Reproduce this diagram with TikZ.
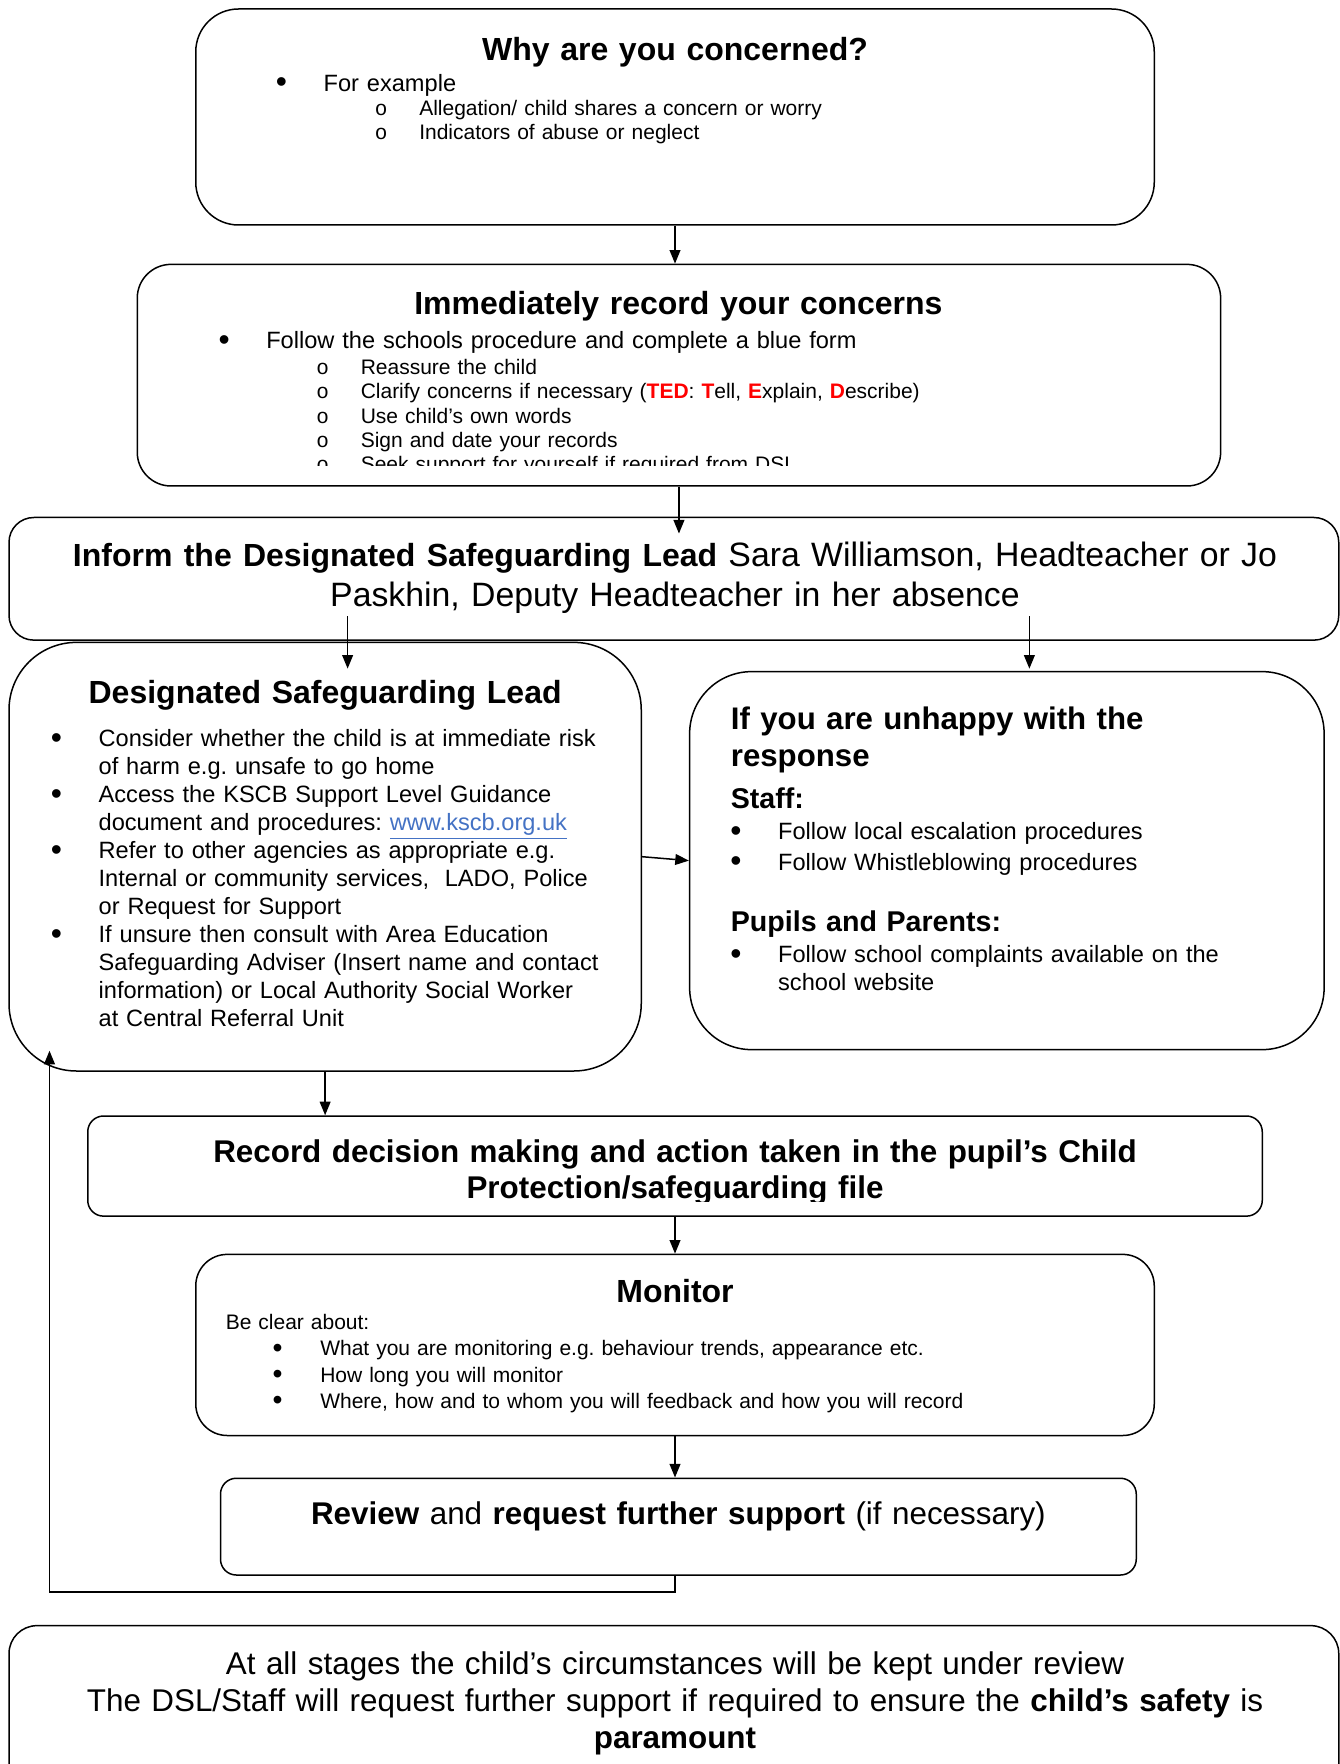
\documentclass[tikz,border=0pt]{standalone}
\usepackage{fontspec}
\setmainfont{Liberation Sans}
\newfontfamily\circfont{Liberation Mono}
\usepackage{xcolor}
\usetikzlibrary{arrows.meta}
\frenchspacing

\definecolor{linkblue}{HTML}{4472C4}
\def\pxu{0.5625pt}
\newcommand{\bul}{\makebox[21.4pt][l]{\hspace*{-2.5pt}\raisebox{-0.07em}{\scalebox{1.35}{•}}}}
\newcommand{\hang}{\hspace*{21.4pt}}
\newcommand{\subbul}{\makebox[20.25pt][l]{\hspace*{-2pt}\circfont o}}

\tikzset{
  box/.style={draw, line width=0.75pt, inner sep=0pt},
  head/.style={inner sep=0pt, anchor=base, text width=500pt, align=center, font=\fontsize{16}{18.6}\selectfont\bfseries},
  body/.style={inner sep=0pt, anchor=base west, text width=400pt, align=left, font=\fontsize{11.8}{14}\selectfont},
  smalltxt/.style={body, font=\fontsize{10.5}{12.1}\selectfont},
}

\begin{document}
\begin{tikzpicture}[x=\pxu, y=-\pxu, line width=0.75pt, >={Triangle[length=6.8pt,width=5.4pt]}]
\useasboundingbox (0,0) rectangle (1191,1568);

		% Boxes
		\node[box, minimum width=852*\pxu, minimum height=192*\pxu, rounded corners=21.4pt] (why) at (600,104) {};
		\node[box, minimum width=963*\pxu, minimum height=197*\pxu, rounded corners=16.9pt] (record) at (603.5,333.5) {};
		\node[box, minimum width=1182*\pxu, minimum height=109*\pxu, rounded corners=12.4pt] (inform) at (599,514.5) {};
		\node[box, minimum width=562*\pxu, minimum height=381*\pxu, rounded corners=33.75pt] (dsl) at (289,761.5) {};
		\node[box, minimum width=564*\pxu, minimum height=336*\pxu, rounded corners=31pt] (unhappy) at (895,765) {};
		\node[box, minimum width=1044*\pxu, minimum height=89*\pxu, rounded corners=7.9pt] (decide) at (600,1036.5) {};
		\node[box, minimum width=852*\pxu, minimum height=161*\pxu, rounded corners=15.75pt] (monitor) at (600,1195.5) {};
		\node[box, minimum width=814*\pxu, minimum height=86*\pxu, rounded corners=7.9pt] (review) at (603,1357) {};
		\node[box, minimum width=1182*\pxu, minimum height=160*\pxu, rounded corners=14pt] (final) at (599,1525) {};

		% Why are you concerned
		\node[head] (whyhead) at (600,54) {Why are you concerned?};
		\node[body] (whylist) at (249,81) {\bul For example};
		\node[smalltxt, font=\fontsize{10.5}{11.8}\selectfont] (whysub) at (336,103) {\subbul Allegation/ child shares a concern or worry\\
			\subbul Indicators of abuse or neglect};

		% Record your concerns
		\node[head] (recordhead) at (603,280) {Immediately record your concerns};
		\node[body] (recordlist) at (198,310) {\bul Follow the schools procedure and complete a blue form};
		\begin{scope}
			\clip (122,235) rectangle (1085,414);
			\node[smalltxt] (recordsub) at (284,333) {\subbul Reassure the child\\
				\subbul Clarify concerns if necessary (\textcolor{red}{\textbf{TED}}: \textcolor{red}{\textbf{T}}ell, \textcolor{red}{\textbf{E}}xplain, \textcolor{red}{\textbf{D}}escribe)\\
				\subbul Use child’s own words\\
				\subbul Sign and date your records\\
				\subbul Seek support for yourself if required from DSL};
		\end{scope}

		% Inform the DSL
		\node[head, text width=660pt, font=\fontsize{16.9}{19.7}\selectfont] (informtxt) at (600,504) {{\fontsize{16}{19.7}\selectfont\bfseries Inform the Designated Safeguarding Lead} Sara Williamson, Headteacher or Jo\\
			Paskhin, Deputy Headteacher in her absence};

		% Designated Safeguarding Lead
		\node[head] (dslhead) at (289,625) {Designated Safeguarding Lead};
		\node[body] (dsllist) at (49,663.5) {\bul Consider whether the child is at immediate risk\\
			\hang of harm e.g. unsafe to go home\\
			\bul Access the KSCB Support Level Guidance\\
			\hang document and procedures: \textcolor{linkblue}{\underline{www.kscb.org.uk}}\\
			\bul Refer to other agencies as appropriate e.g.\\
			\hang Internal or community services,~ LADO, Police\\
			\hang or Request for Support\\
			\bul If unsure then consult with Area Education\\
			\hang Safeguarding Adviser (Insert name and contact\\
			\hang information) or Local Authority Social Worker\\
			\hang at Central Referral Unit};

		% Unhappy with the response
		\node[body, font=\fontsize{15.6}{18.6}\selectfont\bfseries] (unhappyhead) at (649,648) {If you are unhappy with the\\ response};
		\node[body, font=\fontsize{14.3}{16}\selectfont\bfseries] (staffhead) at (649,719) {Staff:};
		\node[body, font=\fontsize{11.8}{15.2}\selectfont] (stafflist) at (653,746.5) {\bul Follow local escalation procedures\\
			\bul Follow Whistleblowing procedures};
		\node[body, font=\fontsize{14.3}{16}\selectfont\bfseries] (pupilhead) at (649,828) {Pupils and Parents:};
		\node[body] (pupillist) at (653,855.5) {\bul Follow school complaints available on the\\
			\hang school website};

		% Record decision
		\begin{scope}
			\clip (78,992) rectangle (1122,1068);
			\node[head, text width=600pt, font=\fontsize{15.7}{18}\selectfont\bfseries] (decidetxt) at (600,1033) {Record decision making and action taken in the pupil’s Child\\
				Protection/safeguarding file};
		\end{scope}

		% Monitor
		\node[head] (monitorhead) at (600,1158) {Monitor};
		\node[smalltxt] (monitorintro) at (200,1182) {Be clear about:};
		\node[smalltxt, font=\fontsize{10.5}{13.2}\selectfont] (monitorlist) at (246,1205) {\bul What you are monitoring e.g. behaviour trends, appearance etc.\\
			\bul How long you will monitor\\
			\bul Where, how and to whom you will feedback and how you will record};

		% Review
		\node[head, font=\fontsize{15.7}{18.6}\selectfont] (reviewtxt) at (603,1355) {\textbf{Review} and \textbf{request further support} (if necessary)};

		% Final note
		\node[head, text width=660pt, font=\fontsize{15.7}{18.6}\selectfont] (finaltxt) at (600,1488) {At all stages the child’s circumstances will be kept under review\\
			The DSL/Staff will request further support if required to ensure the \textbf{child’s safety} is\\
			\textbf{paramount}};

		% Arrows
		\draw[->] (why.south) -- (why.south |- record.north);
		\draw[->] (record.south) -- ([yshift=-8.4pt]record.south |- inform.north);
		\draw[->] ([xshift=11.25pt, yshift=12.4pt]dsl.north |- inform.south) -- ([xshift=11.25pt, yshift=-13.5pt]dsl.north);
		\draw[->] ([xshift=11.25pt, yshift=12.4pt]unhappy.north |- inform.south) -- ([xshift=11.25pt, yshift=1.1pt]unhappy.north);
		\draw[->] (dsl.east) -- (unhappy.west);
		\draw[->] (dsl.south) -- (dsl.south |- decide.north);
		\draw[->] (decide.south) -- (monitor.north);
		\draw[->] (monitor.south) -- (monitor.south |- review.north);

		% Back to the DSL
		\coordinate (loopcorner) at (44,1415);
		\coordinate (dslback) at (44,934);
		\draw[->] (monitor.south |- review.south) |- (loopcorner) -- (dslback);
\end{tikzpicture}
\end{document}
